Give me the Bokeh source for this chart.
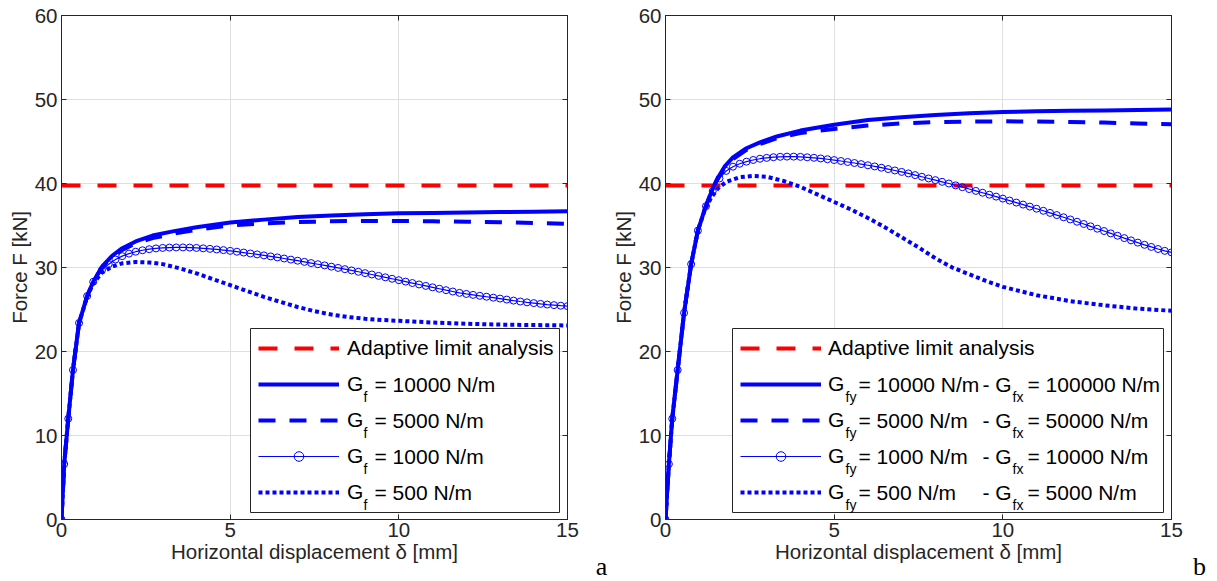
from bokeh.plotting import figure
from bokeh.models import (Range1d, FixedTicker, LinearAxis, Legend, LegendItem, Label,
                          CustomJSTickFormatter)
from bokeh.core.properties import value
from bokeh.layouts import row
from bokeh.embed import file_html
from bokeh.resources import INLINE

# ---------------- data: panel (a) ----------------
limit_x = [0, 15]
limit_F = [39.75, 39.75]

a_x = [0, 0.08, 0.2, 0.34, 0.52, 0.76, 0.94, 1.2, 1.5, 1.8,
       2.2, 2.7, 3.3, 4, 5, 6, 7, 8, 9, 10,
       11, 12, 13, 14, 15]
a_gf10000 = [0, 6.6, 12, 17.8, 23.4, 26.6, 28.3, 30.1, 31.4, 32.3,
             33.1, 33.8, 34.3, 34.8, 35.35, 35.7, 36.0, 36.2, 36.35, 36.45,
             36.5, 36.55, 36.6, 36.65, 36.7]
a_gf5000 = [0, 6.6, 12, 17.8, 23.4, 26.6, 28.3, 30.0, 31.3, 32.1,
            32.9, 33.5, 34.0, 34.5, 35.0, 35.25, 35.4, 35.5, 35.55, 35.55,
            35.5, 35.45, 35.4, 35.3, 35.2]

a_x1000 = [0, 0.08, 0.2, 0.34, 0.52, 0.76, 0.94,
           1.2, 1.4, 1.6, 1.8, 2.0, 2.2, 2.4, 2.6, 2.8, 3.0,
           3.2, 3.4, 3.6, 3.8, 4.0, 4.2, 4.4, 4.6, 4.8, 5.0,
           5.2, 5.4, 5.6, 5.8, 6.0, 6.2, 6.4, 6.6, 6.8, 7.0,
           7.2, 7.4, 7.6, 7.8, 8.0, 8.2, 8.4, 8.6, 8.8, 9.0,
           9.2, 9.4, 9.6, 9.8, 10.0, 10.2, 10.4, 10.6, 10.8, 11.0,
           11.2, 11.4, 11.6, 11.8, 12.0, 12.2, 12.4, 12.6, 12.8, 13.0,
           13.2, 13.4, 13.6, 13.8, 14.0, 14.2, 14.4, 14.6, 14.8, 15.0]
a_gf1000 = [0, 6.6, 12, 17.8, 23.4, 26.6, 28.3,
            29.7, 30.4, 30.95, 31.35, 31.65, 31.88, 32.05, 32.18, 32.27, 32.33,
            32.37, 32.39, 32.39, 32.37, 32.33, 32.28, 32.22, 32.15, 32.07, 31.98,
            31.88, 31.78, 31.67, 31.56, 31.44, 31.32, 31.2, 31.07, 30.94, 30.81,
            30.67, 30.53, 30.39, 30.25, 30.1, 29.95, 29.8, 29.65, 29.49, 29.33,
            29.17, 29.0, 28.83, 28.66, 28.49, 28.32, 28.15, 27.98, 27.81, 27.64,
            27.47, 27.3, 27.14, 26.98, 26.85, 26.74, 26.63, 26.52, 26.41, 26.3,
            26.18, 26.06, 25.95, 25.85, 25.76, 25.67, 25.59, 25.52, 25.45, 25.4]

a_x500 = [0, 0.08, 0.2, 0.34, 0.52, 0.76, 0.94, 1.2, 1.5, 1.8,
          2.2, 2.6, 3.0, 3.5, 4.0, 4.5, 5.0, 5.5, 6.0, 6.5,
          7.0, 7.5, 8.0, 8.5, 9.0, 9.5, 10, 11, 12, 13,
          14, 15]
a_gf500 = [0, 6.6, 12, 17.8, 23.4, 26.5, 28.1, 29.4, 30.1, 30.5,
           30.65, 30.6, 30.4, 29.9, 29.3, 28.6, 27.9, 27.2, 26.5, 25.9,
           25.3, 24.8, 24.4, 24.1, 23.9, 23.75, 23.65, 23.45, 23.3, 23.2,
           23.15, 23.1]

# ---------------- data: panel (b) ----------------
b_x = [0, 0.1, 0.2, 0.36, 0.55, 0.76, 0.96, 1.16, 1.33, 1.5,
       1.75, 2.0, 2.4, 2.8, 3.3, 4, 5, 6, 7, 8,
       9, 10, 11, 12, 13, 14, 15]
b_gf10000 = [0, 6.6, 12, 17.8, 24.6, 30.4, 34.4, 36.9, 38.7, 40.3,
             42.0, 43.1, 44.2, 44.9, 45.6, 46.3, 47.0, 47.55, 47.9, 48.15,
             48.35, 48.5, 48.6, 48.65, 48.7, 48.75, 48.8]
b_gf5000 = [0, 6.6, 12, 17.8, 24.6, 30.4, 34.4, 36.9, 38.7, 40.2,
            41.9, 42.9, 44.0, 44.7, 45.4, 46.0, 46.5, 46.9, 47.15, 47.3,
            47.38, 47.4, 47.38, 47.32, 47.25, 47.15, 47.05]

b_x1000 = [0, 0.1, 0.2, 0.36, 0.55, 0.76, 0.96,
           1.2, 1.4, 1.6, 1.8, 2.0, 2.2, 2.4, 2.6, 2.8, 3.0,
           3.2, 3.4, 3.6, 3.8, 4.0, 4.2, 4.4, 4.6, 4.8, 5.0,
           5.2, 5.4, 5.6, 5.8, 6.0, 6.2, 6.4, 6.6, 6.8, 7.0,
           7.2, 7.4, 7.6, 7.8, 8.0, 8.2, 8.4, 8.6, 8.8, 9.0,
           9.2, 9.4, 9.6, 9.8, 10.0, 10.2, 10.4, 10.6, 10.8, 11.0,
           11.2, 11.4, 11.6, 11.8, 12.0, 12.2, 12.4, 12.6, 12.8, 13.0,
           13.2, 13.4, 13.6, 13.8, 14.0, 14.2, 14.4, 14.6, 14.8, 15.0]
b_gf1000 = [0, 6.6, 12, 17.8, 24.6, 30.4, 34.4,
            37.3, 39.1, 40.6, 41.5, 42.0, 42.35, 42.6, 42.8, 42.95, 43.05,
            43.13, 43.18, 43.2, 43.2, 43.17, 43.12, 43.06, 42.98, 42.89, 42.79,
            42.68, 42.56, 42.44, 42.31, 42.17, 42.03, 41.88, 41.72, 41.55, 41.38,
            41.2, 41.0, 40.8, 40.6, 40.4, 40.2, 40.0, 39.78, 39.56, 39.34,
            39.12, 38.9, 38.67, 38.44, 38.2, 37.97, 37.73, 37.49, 37.25, 37.0,
            36.75, 36.5, 36.24, 35.98, 35.72, 35.45, 35.18, 34.9, 34.62, 34.34,
            34.06, 33.78, 33.5, 33.23, 32.96, 32.7, 32.45, 32.2, 31.98, 31.8]

b_x500 = [0, 0.1, 0.2, 0.36, 0.55, 0.76, 0.96, 1.16, 1.35, 1.55,
          1.8, 2.2, 2.6, 3.0, 3.5, 4.0, 4.5, 5.0, 5.5, 6.0,
          6.5, 7.0, 7.5, 8.0, 8.5, 9.0, 9.5, 10, 11, 12,
          13, 14, 15]
b_gf500 = [0, 6.6, 12, 17.8, 24.6, 30.4, 34.4, 36.8, 38.3, 39.4,
           40.2, 40.75, 40.9, 40.8, 40.3, 39.6, 38.7, 37.8, 36.9, 35.9,
           34.8, 33.6, 32.4, 31.1, 30.0, 29.2, 28.4, 27.7, 26.7, 26.0,
           25.5, 25.1, 24.85]

x_ticks = [0, 5, 10, 15]
y_ticks = [0, 10, 20, 30, 40, 50, 60]

legend_a = ["Adaptive limit analysis", "G", "G", "G", "G"]
legend_a_sub = ["f", "f", "f", "f"]
legend_a_rest = ["= 10000 N/m", "= 5000 N/m", "= 1000 N/m", "= 500 N/m"]
legend_b = ["Adaptive limit analysis", "G", "G", "G", "G"]
legend_b_sub1 = ["fy", "fy", "fy", "fy"]
legend_b_rest1 = ["= 10000 N/m", "= 5000 N/m", "= 1000 N/m", "= 500 N/m"]
legend_b_sub2 = ["fx", "fx", "fx", "fx"]
legend_b_rest2 = ["= 100000 N/m", "= 50000 N/m", "= 10000 N/m", "= 5000 N/m"]

# ---------------- styling / geometry ----------------
FONT = "Liberation Sans"
AX = "#262626"
BLUE = "#0000ff"
RED = "#ff0000"
FRAME_W, FRAME_H = 506, 504
XMAX, YMAX = 15, 60
PAD, ROW, SPC = 8, 24, 12
LEG_H = 2 * PAD + 5 * ROW + 4 * SPC
LEG_BOTTOM = 7
GLYPH_W = 81
LEG_FS = "21px"
SUB_FS = "14px"


def dx(px):
    return px / FRAME_W * XMAX


def dy(py):
    return py / FRAME_H * YMAX


def row_center(i):
    top = LEG_BOTTOM + LEG_H
    return top - PAD - ROW / 2 - i * (ROW + SPC)


def make_panel(series, labels, legend_vx, label_w, standoff, border_left, border_right):
    (lx, lF), (x1, y1), (x2, y2), (x3, y3), (x4, y4) = series
    p = figure(frame_width=FRAME_W, frame_height=FRAME_H, output_backend="svg",
               toolbar_location=None, x_range=Range1d(0, XMAX), y_range=Range1d(0, YMAX),
               min_border_left=border_left, min_border_right=border_right,
               min_border_top=15, min_border_bottom=61, background_fill_color="white",
               border_fill_color="white", outline_line_color=AX, outline_line_width=1)
    for ax in (p.xaxis[0], p.yaxis[0]):
        ax.major_tick_in = 5
        ax.major_tick_out = 0
        ax.minor_tick_line_color = None
        ax.axis_line_color = AX
        ax.major_tick_line_color = AX
        ax.major_label_text_font = FONT
        ax.major_label_text_font_size = "20.5px"
        ax.major_label_text_color = AX
        ax.axis_label_text_font = FONT
        ax.axis_label_text_font_size = "20.5px"
        ax.axis_label_text_font_style = "normal"
        ax.axis_label_text_color = AX
    p.xaxis[0].ticker = FixedTicker(ticks=x_ticks)
    p.yaxis[0].ticker = FixedTicker(ticks=y_ticks)
    p.xaxis[0].axis_label = "Horizontal displacement δ [mm]"
    p.yaxis[0].axis_label = "Force F [kN]"
    p.xaxis[0].major_label_standoff = 3
    p.xaxis[0].axis_label_standoff = 0
    p.yaxis[0].major_label_standoff = 4
    p.yaxis[0].axis_label_standoff = 1
    for loc, tk in (("above", x_ticks), ("right", y_ticks)):
        ax = LinearAxis(ticker=FixedTicker(ticks=tk),
                        formatter=CustomJSTickFormatter(code="return ''"),
                        major_tick_in=5, major_tick_out=0, major_label_standoff=0,
                        minor_tick_line_color=None, axis_line_color=AX,
                        major_tick_line_color=AX, major_label_text_font_size="1px")
        p.add_layout(ax, loc)
    for g in (p.xgrid[0], p.ygrid[0]):
        g.grid_line_color = "#dfdfdf"
        g.grid_line_width = 1
    p.xgrid[0].ticker = FixedTicker(ticks=x_ticks)
    p.ygrid[0].ticker = FixedTicker(ticks=y_ticks)

    r0 = p.line(lx, lF, color=RED, line_width=4, line_dash="19 17")
    r1 = p.line(x1, y1, color=BLUE, line_width=4)
    r2 = p.line(x2, y2, color=BLUE, line_width=4, line_dash="17 14")
    r3 = p.line(x3, y3, color=BLUE, line_width=1.2)
    r3m = p.scatter(x3, y3, marker="circle", size=7, line_color=BLUE, fill_color=None,
                    line_width=1)
    r4 = p.line(x4, y4, color=BLUE, line_width=4, line_dash="4 3")

    # legend frame (white box with dark border) drawn beneath the legend contents
    leg_w = 2 * PAD + GLYPH_W + standoff + label_w
    p.quad(left=[dx(legend_vx)], right=[dx(legend_vx + leg_w)],
           bottom=[dy(LEG_BOTTOM)], top=[dy(LEG_BOTTOM + LEG_H)],
           fill_color="white", fill_alpha=1.0, line_color=AX, line_width=1)

    items = [LegendItem(label=labels[0], renderers=[r0]),
             LegendItem(label=labels[1], renderers=[r1]),
             LegendItem(label=labels[2], renderers=[r2]),
             LegendItem(label=labels[3], renderers=[r3, r3m]),
             LegendItem(label=labels[4], renderers=[r4])]
    # without a border Bokeh drops the padding, so offset the contents by PAD
    leg = Legend(items=items, location=(legend_vx + PAD, LEG_BOTTOM + PAD),
                 glyph_width=GLYPH_W, glyph_height=ROW, label_height=ROW,
                 label_width=label_w, label_standoff=standoff, padding=0,
                 spacing=SPC, margin=0, border_line_color=None,
                 background_fill_alpha=0.0, label_text_font=FONT,
                 label_text_font_size=LEG_FS, label_text_color="black")
    p.add_layout(leg)
    return p


def legend_texts(p, leg_left, pieces):
    """pieces: list of (x offset from legend left, row index, text, is_sub)."""
    main = {"x": [], "y": [], "t": []}
    sub = {"x": [], "y": [], "t": []}
    for off, i, t, is_sub in pieces:
        yc = row_center(i)
        d = sub if is_sub else main
        d["x"].append(dx(leg_left + off))
        d["y"].append(dy(yc - 12) if is_sub else dy(yc))
        d["t"].append(t)
    for d, fs in ((main, LEG_FS), (sub, SUB_FS)):
        p.text(x=d["x"], y=d["y"], text=d["t"], text_font=value(FONT),
               text_font_size=value(fs), text_baseline="middle", text_align="left",
               text_color="black")


def panel_letter(p, x_px, text):
    p.add_layout(Label(x=dx(x_px), y=dy(-47), text=text, text_font="Liberation Serif",
                       text_font_size="26px", text_baseline="alphabetic",
                       text_align="center", text_color="black"), "right")


# panel a
leg_left_a = 189
pa = make_panel([(limit_x, limit_F), (a_x, a_gf10000), (a_x, a_gf5000),
                 (a_x1000, a_gf1000), (a_x500, a_gf500)], legend_a,
                legend_vx=leg_left_a, label_w=204, standoff=8,
                border_left=61, border_right=41)
pieces_a = []
for i in range(4):
    pieces_a.append((113, i + 1, legend_a_sub[i], True))
    pieces_a.append((124, i + 1, legend_a_rest[i], False))
legend_texts(pa, leg_left_a, pieces_a)
panel_letter(pa, 540, "a")

# panel b
leg_left_b = 67
pb = make_panel([(limit_x, limit_F), (b_x, b_gf10000), (b_x, b_gf5000),
                 (b_x1000, b_gf1000), (b_x500, b_gf500)], legend_b,
                legend_vx=leg_left_b, label_w=327, standoff=7,
                border_left=57, border_right=45)
pieces_b = []
for i in range(4):
    pieces_b.append((113, i + 1, legend_b_sub1[i], True))
    pieces_b.append((126, i + 1, legend_b_rest1[i], False))
    pieces_b.append((250, i + 1, "- G", False))
    pieces_b.append((280, i + 1, legend_b_sub2[i], True))
    pieces_b.append((295, i + 1, legend_b_rest2[i], False))
legend_texts(pb, leg_left_b, pieces_b)
panel_letter(pb, 534, "b")

layout = row(pa, pb)
open("out.html", "w").write(file_html(layout, INLINE))
